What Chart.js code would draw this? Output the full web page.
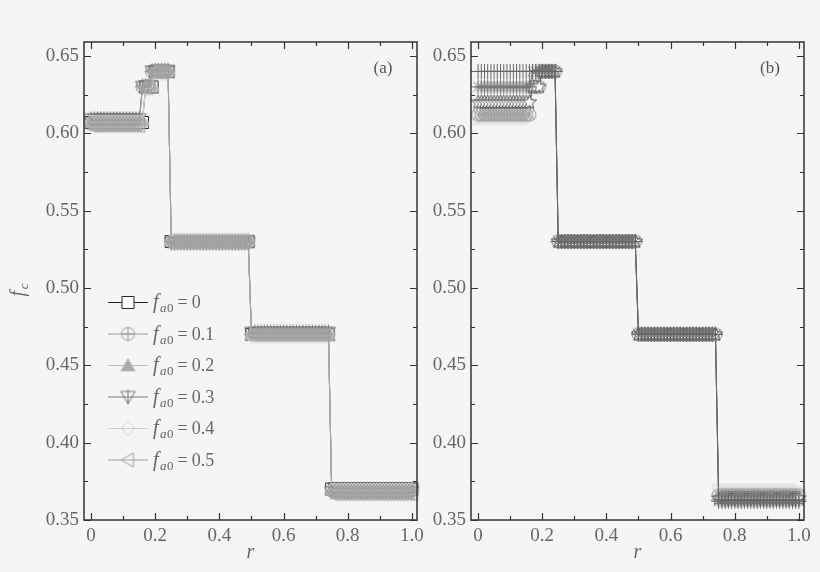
<!DOCTYPE html>
<html>
<head>
<meta charset="utf-8">
<script src="https://cdn.jsdelivr.net/npm/chart.js@4.4.1/dist/chart.umd.min.js"></script>
<style>
    html, body { margin: 0; padding: 0; background: #f5f5f5; }
    #wrap { position: relative; width: 820px; height: 572px; overflow: hidden; }
    canvas { position: absolute; top: 0; }
    #chart-a { left: 0; }
    #chart-b { left: 430px; }
</style>
</head>
<body>
<div id="wrap">
    <canvas id="chart-a" width="430" height="572"></canvas>
    <canvas id="chart-b" width="390" height="572"></canvas>
</div>
<script>
// r grid shared by every curve
const rValues = [
    0.00, 0.01, 0.02, 0.03, 0.04, 0.05, 0.06, 0.07, 0.08, 0.09,
    0.10, 0.11, 0.12, 0.13, 0.14, 0.15, 0.16, 0.17, 0.18, 0.19,
    0.20, 0.21, 0.22, 0.23, 0.24, 0.25, 0.26, 0.27, 0.28, 0.29,
    0.30, 0.31, 0.32, 0.33, 0.34, 0.35, 0.36, 0.37, 0.38, 0.39,
    0.40, 0.41, 0.42, 0.43, 0.44, 0.45, 0.46, 0.47, 0.48, 0.49,
    0.50, 0.51, 0.52, 0.53, 0.54, 0.55, 0.56, 0.57, 0.58, 0.59,
    0.60, 0.61, 0.62, 0.63, 0.64, 0.65, 0.66, 0.67, 0.68, 0.69,
    0.70, 0.71, 0.72, 0.73, 0.74, 0.75, 0.76, 0.77, 0.78, 0.79,
    0.80, 0.81, 0.82, 0.83, 0.84, 0.85, 0.86, 0.87, 0.88, 0.89,
    0.90, 0.91, 0.92, 0.93, 0.94, 0.95, 0.96, 0.97, 0.98, 0.99,
    1.00
];

// f_c is a staircase: number of r points on each plateau, and the plateau values
const stepCounts = [17, 3, 5, 25, 25, 26];
const stepCountsEarly = [16, 3, 6, 25, 25, 26];

// panel (a)
const fa0_00 = [0.607, 0.630, 0.640, 0.530, 0.470, 0.370];
const fa0_01 = [0.606, 0.630, 0.640, 0.530, 0.470, 0.369];
const fa0_02 = [0.608, 0.631, 0.641, 0.531, 0.470, 0.370];
const fa0_03 = [0.609, 0.630, 0.640, 0.529, 0.471, 0.368];
const fa0_04 = [0.607, 0.629, 0.639, 0.530, 0.469, 0.369];
const fa0_05 = [0.605, 0.630, 0.640, 0.530, 0.470, 0.367];
// panel (b)
const fa0_06 = [0.610, 0.630, 0.640, 0.530, 0.470, 0.369];
const fa0_07 = [0.612, 0.630, 0.640, 0.530, 0.470, 0.366];
const fa0_08 = [0.620, 0.630, 0.640, 0.530, 0.470, 0.364];
const fa0_09 = [0.630, 0.640, 0.640, 0.530, 0.470, 0.362];
const fa0_10 = [0.640, 0.640, 0.640, 0.530, 0.470, 0.363];

const labelsA = ['0', '0.1', '0.2', '0.3', '0.4', '0.5'];
const labelsB = ['0.6', '0.7', '0.8', '0.9', '1.0'];

// axis ticks
const xLabelTicks = [0, 0.2, 0.4, 0.6, 0.8, 1.0];
const xMinorTicks = [0.1, 0.3, 0.5, 0.7, 0.9];
const yLabelTicks = [0.35, 0.40, 0.45, 0.50, 0.55, 0.60, 0.65];
const yMinorTicks = [0.375, 0.425, 0.475, 0.525, 0.575, 0.625];

const SERIF = '"Liberation Serif", "DejaVu Serif", serif';
const TEXT = '#666';

function buildPoints(levels, counts) {
    var pts = [];
    var i = 0;
    levels.forEach(function (lv, k) {
        for (var n = 0; n < counts[k]; n++) {
            pts.push({ x: rValues[i], y: lv });
            i++;
        }
    });
    return pts;
}

// small canvases used as point styles (and in the legend)
function makeMarker(shape, color, fill) {
    var c = document.createElement('canvas');
    c.width = 17;
    c.height = 17;
    var g = c.getContext('2d');
    var m = 8.5, s = 6.5;
    g.strokeStyle = color;
    g.fillStyle = fill || 'rgba(0,0,0,0)';
    g.lineWidth = 1;
    g.beginPath();
    if (shape === 'square') {
        g.rect(2.5, 2.5, 12, 12);
    } else if (shape === 'circlePlus' || shape === 'circleX') {
        g.arc(m, m, s, 0, Math.PI * 2);
        g.stroke();
        g.beginPath();
        if (shape === 'circlePlus') {
            g.moveTo(m - s, m); g.lineTo(m + s, m);
            g.moveTo(m, m - s); g.lineTo(m, m + s);
        } else {
            var d = s * 0.72;
            g.moveTo(m - d, m - d); g.lineTo(m + d, m + d);
            g.moveTo(m - d, m + d); g.lineTo(m + d, m - d);
        }
    } else if (shape === 'triUp') {
        g.moveTo(m, m - s - 0.5); g.lineTo(m + s + 0.5, m + s - 1); g.lineTo(m - s - 0.5, m + s - 1);
        g.closePath();
    } else if (shape === 'triDownBar') {
        g.moveTo(m - s - 0.5, m - s + 1); g.lineTo(m + s + 0.5, m - s + 1); g.lineTo(m, m + s + 0.5);
        g.closePath();
        g.moveTo(m, m - s - 1.5); g.lineTo(m, m + s + 0.5);
    } else if (shape === 'diamond') {
        g.moveTo(m, m - s - 1); g.lineTo(m + s, m); g.lineTo(m, m + s + 1); g.lineTo(m - s, m);
        g.closePath();
    } else if (shape === 'triLeft') {
        g.moveTo(m - s - 0.5, m); g.lineTo(m + s - 1, m - s - 0.5); g.lineTo(m + s - 1, m + s + 0.5);
        g.closePath();
    } else if (shape === 'triRight') {
        g.moveTo(m + s + 0.5, m); g.lineTo(m - s + 1, m - s - 0.5); g.lineTo(m - s + 1, m + s + 0.5);
        g.closePath();
    } else if (shape === 'star5') {
        for (var k = 0; k < 10; k++) {
            var rad = k % 2 === 0 ? s + 1 : (s + 1) * 0.42;
            var a = -Math.PI / 2 + k * Math.PI / 5;
            if (k === 0) g.moveTo(m + rad * Math.cos(a), m + rad * Math.sin(a));
            else g.lineTo(m + rad * Math.cos(a), m + rad * Math.sin(a));
        }
        g.closePath();
    } else if (shape === 'asterisk') {
        var q = s * 0.75;
        g.moveTo(m, m - s - 1); g.lineTo(m, m + s + 1);
        g.moveTo(m - s - 1, m); g.lineTo(m + s + 1, m);
        g.moveTo(m - q, m - q); g.lineTo(m + q, m + q);
        g.moveTo(m - q, m + q); g.lineTo(m + q, m - q);
    } else if (shape === 'plus') {
        g.moveTo(m, m - s - 1); g.lineTo(m, m + s + 1);
        g.moveTo(m - s - 1, m); g.lineTo(m + s + 1, m);
    }
    if (fill) g.fill();
    g.stroke();
    return c;
}

var seriesA = [
    { label: labelsA[0], data: fa0_00, counts: stepCounts,      color: '#222', shape: 'square',     fill: '#fff' },
    { label: labelsA[1], data: fa0_01, counts: stepCountsEarly, color: '#9a9a9a', shape: 'circlePlus' },
    { label: labelsA[2], data: fa0_02, counts: stepCounts,      color: '#bdbdbd', shape: 'triUp', fill: '#a8a8a8' },
    { label: labelsA[3], data: fa0_03, counts: stepCountsEarly, color: '#7a7a7a', shape: 'triDownBar' },
    { label: labelsA[4], data: fa0_04, counts: stepCounts,      color: '#cfcfcf', shape: 'diamond' },
    { label: labelsA[5], data: fa0_05, counts: stepCountsEarly, color: '#a0a0a0', shape: 'triLeft' }
];

var seriesB = [
    { label: labelsB[0], data: fa0_06, counts: stepCounts, color: '#dcdcdc', shape: 'triRight' },
    { label: labelsB[1], data: fa0_07, counts: stepCounts, color: '#9a9a9a', shape: 'circleX' },
    { label: labelsB[2], data: fa0_08, counts: stepCounts, color: '#555', shape: 'star5', fill: '#fff' },
    { label: labelsB[3], data: fa0_09, counts: stepCounts, color: '#777', shape: 'asterisk' },
    { label: labelsB[4], data: fa0_10, counts: stepCounts, color: '#666', shape: 'plus' }
];

seriesMarkers(seriesA);
seriesMarkers(seriesB);

function seriesMarkers(list) {
    list.forEach(function (s) { s.marker = makeMarker(s.shape, s.color, s.fill); });
}

// f with a subscript, drawn piece by piece
function drawSubText(ctx, x, y, sub, rest) {
    ctx.textAlign = 'left';
    ctx.textBaseline = 'alphabetic';
    ctx.font = 'italic 20px ' + SERIF;
    ctx.fillText('f', x, y);
    x += ctx.measureText('f').width + 1.5;
    ctx.font = 'italic 13px ' + SERIF;
    ctx.fillText(sub.charAt(0), x, y + 4);
    x += ctx.measureText(sub.charAt(0)).width + 0.5;
    if (sub.length > 1) {
        ctx.font = '13px ' + SERIF;
        ctx.fillText(sub.slice(1), x, y + 4);
        x += ctx.measureText(sub.slice(1)).width;
    }
    if (rest) {
        ctx.font = '18px ' + SERIF;
        x += 4;
        ctx.fillText('=', x, y);
        x += ctx.measureText('=').width + 4;
        ctx.fillText(rest, x, y);
    }
}

function subTextWidth(ctx, sub) {
    ctx.font = 'italic 20px ' + SERIF;
    var w = ctx.measureText('f').width + 1.5;
    ctx.font = 'italic 13px ' + SERIF;
    w += ctx.measureText(sub).width;
    return w;
}

function makeDecor(info) {
    return {
        id: 'decor',
        afterDatasetsDraw: function (chart) {
            var ctx = chart.ctx;
            var a = chart.chartArea;
            var xs = chart.scales.x, ys = chart.scales.y;
            ctx.save();
            // frame
            ctx.strokeStyle = '#333';
            ctx.lineWidth = 1.5;
            ctx.strokeRect(a.left, a.top, a.right - a.left, a.bottom - a.top);
            // inward ticks on four sides
            ctx.lineWidth = 1.2;
            ctx.beginPath();
            function xTick(v, len) {
                var px = Math.round(xs.getPixelForValue(v)) + 0.5;
                ctx.moveTo(px, a.bottom); ctx.lineTo(px, a.bottom - len);
                ctx.moveTo(px, a.top); ctx.lineTo(px, a.top + len);
            }
            function yTick(v, len) {
                var py = Math.round(ys.getPixelForValue(v)) + 0.5;
                ctx.moveTo(a.left, py); ctx.lineTo(a.left + len, py);
                ctx.moveTo(a.right, py); ctx.lineTo(a.right - len, py);
            }
            xLabelTicks.forEach(function (v) { xTick(v, 7); });
            xMinorTicks.forEach(function (v) { xTick(v, 4); });
            yLabelTicks.forEach(function (v) { yTick(v, 7); });
            yMinorTicks.forEach(function (v) { yTick(v, 4); });
            ctx.stroke();

            // legend inside the plot
            info.series.forEach(function (s, i) {
                var y = info.legendTop + i * 31.5;
                ctx.strokeStyle = s.color;
                ctx.lineWidth = 1;
                ctx.beginPath();
                ctx.moveTo(info.legendX, y + 0.5);
                ctx.lineTo(info.legendX + 40, y + 0.5);
                ctx.stroke();
                ctx.drawImage(s.marker, info.legendX + 20 - 8.5, y - 8);
                ctx.fillStyle = TEXT;
                drawSubText(ctx, info.legendX + 45, y + 6, 'a0', s.label);
            });

            // panel tag
            ctx.fillStyle = '#555';
            ctx.font = '17px ' + SERIF;
            ctx.textAlign = 'center';
            ctx.textBaseline = 'middle';
            ctx.fillText(info.tag, a.right - 34, a.top + 27);

            // axis titles
            ctx.fillStyle = TEXT;
            ctx.font = 'italic 20px ' + SERIF;
            ctx.textAlign = 'center';
            ctx.textBaseline = 'alphabetic';
            ctx.fillText('r', (a.left + a.right) / 2, 558);
            if (info.yTitle) {
                ctx.translate(24, 290);
                ctx.rotate(-Math.PI / 2);
                var w = subTextWidth(ctx, 'c');
                drawSubText(ctx, -w / 2, 0, 'c');
            }
            ctx.restore();
        }
    };
}

function drawPanel(canvasId, list, info, yAxisWidth, rightPad) {
    var datasets = list.map(function (s, i) {
        return {
            label: s.label,
            data: buildPoints(s.data, s.counts),
            borderColor: s.color,
            backgroundColor: s.color,
            borderWidth: 1,
            pointStyle: s.marker,
            pointRadius: 6,
            tension: 0,
            order: -i,
            clip: 10
        };
    });
    info.series = list;

    return new Chart(document.getElementById(canvasId), {
        type: 'line',
        data: { datasets: datasets },
        options: {
            responsive: false,
            animation: false,
            events: [],
            layout: { padding: { top: 42, right: rightPad, left: 0, bottom: 0 } },
            plugins: { legend: { display: false }, tooltip: { enabled: false } },
            scales: {
                x: {
                    type: 'linear',
                    min: -0.022,
                    max: 1.016,
                    grid: { display: false, drawTicks: false },
                    border: { display: false },
                    afterBuildTicks: function (scale) {
                        scale.ticks = xLabelTicks.map(function (v) { return { value: v }; });
                    },
                    afterFit: function (scale) { scale.height = 52; },
                    ticks: {
                        padding: 5,
                        maxRotation: 0,
                        color: TEXT,
                        font: { family: SERIF, size: 19 },
                        callback: function (v) { return v === 0 ? '0' : v.toFixed(1); }
                    }
                },
                y: {
                    type: 'linear',
                    min: 0.35,
                    max: 0.659,
                    grid: { display: false, drawTicks: false },
                    border: { display: false },
                    afterBuildTicks: function (scale) {
                        scale.ticks = yLabelTicks.map(function (v) { return { value: v }; });
                    },
                    afterFit: function (scale) { scale.width = yAxisWidth; },
                    ticks: {
                        padding: 5,
                        color: TEXT,
                        font: { family: SERIF, size: 19 },
                        callback: function (v) { return v.toFixed(2); }
                    }
                }
            }
        },
        plugins: [makeDecor(info)]
    });
}

drawPanel('chart-a', seriesA, { tag: '(a)', legendX: 108, legendTop: 302, yTitle: true }, 84, 13);
drawPanel('chart-b', seriesB, { tag: '(b)', legendX: 508, legendTop: 333.5, yTitle: false }, 41, 16);
</script>
</body>
</html>
